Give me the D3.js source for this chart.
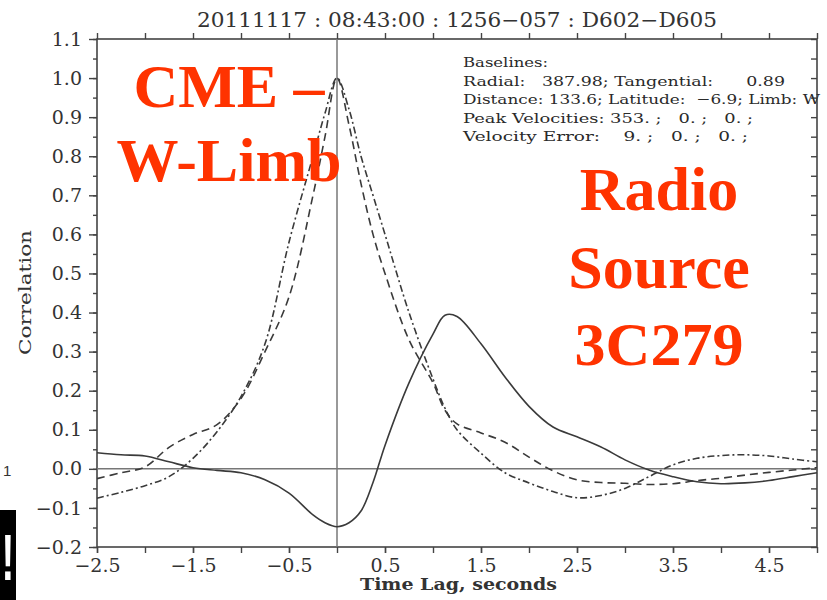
<!DOCTYPE html>
<head>
  <meta charset="utf-8">
  <title>Correlation vs Time Lag</title>
  <script src="https://d3js.org/d3.v7.min.js"></script>
  <style>
    body { margin: 0; background: #fff; }
    svg { display: block; }
    .axis line { stroke: #444; stroke-width: 1.4px; }
    .axis path { display: none; }
    .axis text { font-family: "DejaVu Serif", serif; fill: #333; }
    .note { fill: #ff3300; font-family: "Liberation Serif", "Times New Roman", serif; font-weight: bold; font-size: 62px; }
    .info { font-family: "DejaVu Serif", serif; font-size: 13.5px; fill: #2a2a2a; white-space: pre; }
  </style>
</head>
<body>
  <div id="root"></div>
  <script>
    // time lag samples (seconds)
    var lagTimes = [-2.5, -2.25, -2.0, -1.75, -1.5, -1.25, -1.0, -0.75, -0.5, -0.25, -0.125, 0,
                    0.125, 0.25, 0.375, 0.5, 0.75, 1.0, 1.125, 1.25, 1.5, 1.75, 2.0, 2.25, 2.5,
                    2.75, 3.0, 3.25, 3.5, 3.75, 4.0, 4.25, 4.5, 4.75, 5.0];

    // solid curve
    var corrSolid = [0.041, 0.036, 0.033, 0.018, 0.003, -0.004, -0.01, -0.028, -0.062, -0.118, -0.138, -0.148,
                     -0.138, -0.108, -0.035, 0.06, 0.22, 0.345, 0.393, 0.39, 0.32, 0.235, 0.16, 0.107, 0.082,
                     0.056, 0.023, -0.003, -0.02, -0.033, -0.038, -0.036, -0.03, -0.02, -0.01];

    // long dashed curve
    var corrDashed = [-0.025, -0.01, 0.005, 0.055, 0.088, 0.113, 0.18, 0.30, 0.44, 0.70, 0.85, 1.0,
                      0.88, 0.73, 0.60, 0.50, 0.33, 0.22, 0.15, 0.115, 0.092, 0.068, 0.03, -0.005, -0.028,
                      -0.035, -0.037, -0.04, -0.038, -0.03, -0.024, -0.016, -0.009, -0.003, 0.003];

    // dash-dot curve
    var corrDashDot = [-0.075, -0.06, -0.043, -0.02, 0.027, 0.095, 0.185, 0.32, 0.58, 0.80, 0.91, 1.0,
                       0.92, 0.80, 0.70, 0.60, 0.40, 0.23, 0.155, 0.10, 0.04, -0.01, -0.036, -0.058, -0.074,
                       -0.068, -0.05, -0.02, 0.01, 0.027, 0.034, 0.036, 0.033, 0.025, 0.018];

    var xTicks = [-2.5, -1.5, -0.5, 0.5, 1.5, 2.5, 3.5, 4.5];
    var yTicks = [-0.2, -0.1, 0.0, 0.1, 0.2, 0.3, 0.4, 0.5, 0.6, 0.7, 0.8, 0.9, 1.0, 1.1];

    var plotTitle = "20111117 : 08:43:00 : 1256\u2212057 : D602\u2212D605";
    var infoLines = [
      "Baselines:",
      "Radial:   387.98; Tangential:      0.89",
      "Distance: 133.6; Latitude:  \u22126.9; Limb: W",
      "Peak Velocities: 353. ;   0. ;   0. ;",
      "Velocity Error:    9. ;   0. ;   0. ;"
    ];
    var leftNote = ["CME \u2013", "W-Limb"];
    var rightNote = ["Radio", "Source", "3C279"];

    // layout only: drawn width of each info line
    var infoWidths = [85, 322, 357, 290, 285];

    // set the dimensions and margins of the graph
    var margin = {top: 39, left: 97},
        width = 720,
        height = 508;

    var svg = d3.select("#root")
      .append("svg")
        .attr("width", 827)
        .attr("height", 600);

    var g = svg.append("g")
        .attr("transform", "translate(" + margin.left + "," + margin.top + ")");

    var x = d3.scaleLinear().domain([-2.5, 5.0]).range([0, width]);
    var y = d3.scaleLinear().domain([-0.2, 1.1]).range([height, 0]);

    var fmt = d3.format(".1f");

    // ---------------------------//
    //       AXES                 //
    // ---------------------------//

    // bottom: labelled ticks + half-step ticks
    g.append("g")
      .attr("class", "axis")
      .attr("transform", "translate(0," + height + ")")
      .call(d3.axisBottom(x).tickValues(d3.range(-2.5, 5.01, 0.5)).tickSize(6).tickFormat(""));
    var xAx = g.append("g")
      .attr("class", "axis")
      .attr("transform", "translate(0," + height + ")")
      .call(d3.axisBottom(x).tickValues(xTicks).tickSize(6).tickFormat(fmt));
    xAx.selectAll("text").attr("y", 25).attr("dy", 0).style("font-size", "19px");

    // top
    g.append("g")
      .attr("class", "axis")
      .call(d3.axisTop(x).tickValues(d3.range(-2.5, 5.01, 0.5)).tickSize(6).tickFormat(""));

    // left
    g.append("g")
      .attr("class", "axis")
      .call(d3.axisLeft(y).tickValues(d3.range(-0.2, 1.101, 0.05)).tickSize(4).tickFormat(""));
    var yAx = g.append("g")
      .attr("class", "axis")
      .call(d3.axisLeft(y).tickValues(yTicks).tickSize(8).tickFormat(fmt));
    yAx.selectAll("text").attr("x", -15).style("font-size", "19px");

    // right, ticks pointing in
    g.append("g")
      .attr("class", "axis")
      .attr("transform", "translate(" + width + ",0)")
      .call(d3.axisRight(y).tickValues(d3.range(-0.2, 1.101, 0.05)).tickSize(-6).tickFormat(""));

    // frame
    g.append("rect")
      .attr("width", width).attr("height", height)
      .style("fill", "none").style("stroke", "#444").style("stroke-width", 1.6);

    // zero lines
    g.append("line")
      .attr("x1", 0).attr("x2", width).attr("y1", y(0)).attr("y2", y(0))
      .style("stroke", "#777").style("stroke-width", 1.5);
    g.append("line")
      .attr("x1", x(0)).attr("x2", x(0)).attr("y1", 0).attr("y2", height)
      .style("stroke", "#777").style("stroke-width", 1.5);

    // ---------------------------//
    //       CURVES               //
    // ---------------------------//
    var series = [
      {values: corrSolid, dash: null},
      {values: corrDashed, dash: "8,5"},
      {values: corrDashDot, dash: "7,3,2,3"}
    ];
    var line = d3.line()
      .x(function(d) { return x(d[0]); })
      .y(function(d) { return y(d[1]); })
      .curve(d3.curveCatmullRom.alpha(0.5));

    g.selectAll(".curve")
      .data(series)
      .enter()
      .append("path")
        .attr("class", "curve")
        .attr("d", function(s) { return line(lagTimes.map(function(t, i) { return [t, s.values[i]]; })); })
        .style("fill", "none")
        .style("stroke", "#3a3a3a")
        .style("stroke-width", 1.6)
        .style("stroke-dasharray", function(s) { return s.dash; });

    // ---------------------------//
    //       TEXTS                //
    // ---------------------------//
    svg.append("text")
      .attr("x", 197).attr("y", 27)
      .attr("textLength", 520)
      .attr("lengthAdjust", "spacingAndGlyphs")
      .style("font-family", "DejaVu Serif, serif")
      .style("font-size", "20px")
      .style("fill", "#333")
      .text(plotTitle);

    svg.append("text")
      .attr("transform", "translate(31,355) rotate(-90)")
      .attr("textLength", 125)
      .attr("lengthAdjust", "spacingAndGlyphs")
      .style("font-family", "DejaVu Serif, serif")
      .style("font-size", "16px")
      .style("fill", "#333")
      .text("Correlation");

    svg.append("text")
      .attr("x", 360).attr("y", 590)
      .attr("textLength", 197)
      .attr("lengthAdjust", "spacingAndGlyphs")
      .style("font-family", "DejaVu Serif, serif")
      .style("font-size", "16px")
      .style("font-weight", "bold")
      .style("fill", "#333")
      .text("Time Lag, seconds");

    svg.append("g")
      .selectAll("text")
      .data(infoLines)
      .enter()
      .append("text")
        .attr("class", "info")
        .attr("x", 463)
        .attr("y", function(d, i) { return 67 + i * 18.5; })
        .attr("textLength", function(d, i) { return infoWidths[i]; })
        .attr("lengthAdjust", "spacingAndGlyphs")
        .text(function(d) { return d; });

    svg.append("g")
      .selectAll("text")
      .data(leftNote)
      .enter()
      .append("text")
        .attr("class", "note")
        .attr("x", 229)
        .attr("y", function(d, i) { return 107 + i * 74; })
        .attr("text-anchor", "middle")
        .text(function(d) { return d; });

    svg.append("g")
      .selectAll("text")
      .data(rightNote)
      .enter()
      .append("text")
        .attr("class", "note")
        .attr("x", 659)
        .attr("y", function(d, i) { return 210 + i * 77.5; })
        .attr("text-anchor", "middle")
        .text(function(d) { return d; });

    // bits cut off at the left edge
    svg.append("text")
      .attr("x", 3).attr("y", 476)
      .style("font-family", "Liberation Sans, sans-serif")
      .style("font-size", "15px")
      .style("fill", "#333")
      .text("1");
    svg.append("rect")
      .attr("x", 0).attr("y", 510).attr("width", 16).attr("height", 90)
      .style("fill", "#000");
    svg.append("text")
      .attr("transform", "translate(8,580) scale(0.6,1)")
      .attr("text-anchor", "middle")
      .style("font-family", "Liberation Sans, sans-serif")
      .style("font-weight", "bold")
      .style("font-size", "64px")
      .style("fill", "#fff")
      .text("!");
  </script>
</body>
